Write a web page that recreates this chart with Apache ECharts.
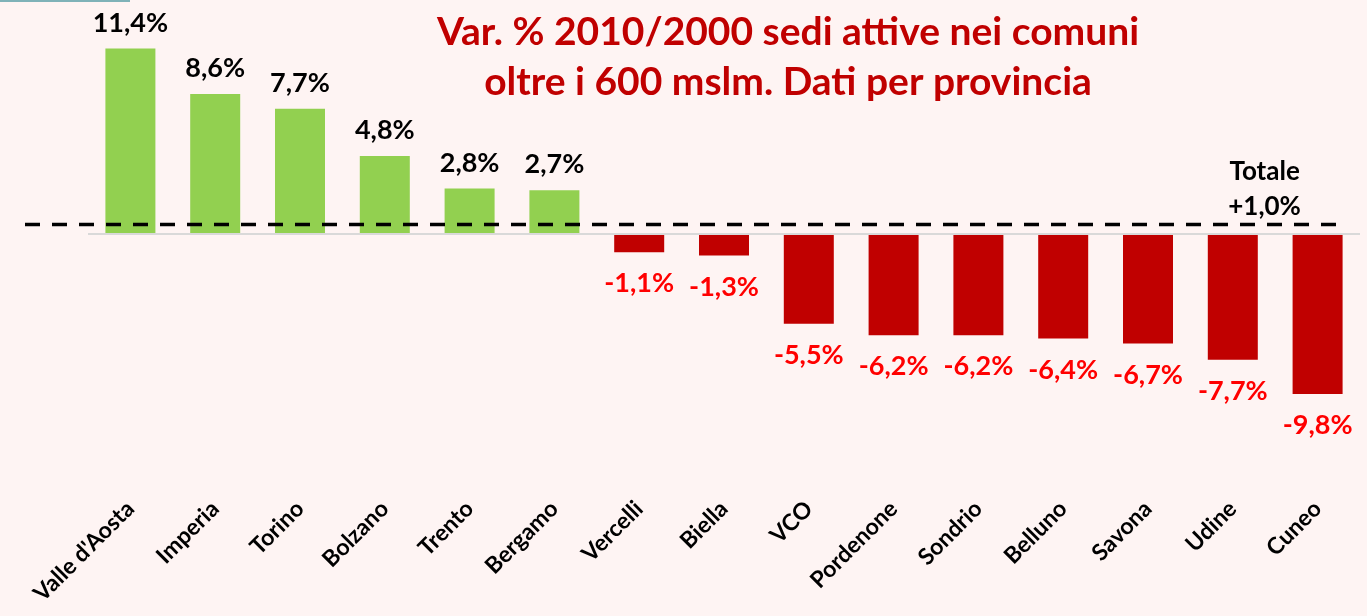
<!DOCTYPE html>
<html>
	<head>
		<meta charset="utf-8">
		<title></title>
		<script src="https://cdn.jsdelivr.net/npm/echarts@6/dist/echarts.min.js"></script>
		<style>
			html, body { margin: 0; padding: 0; background: #fef4f3; }
		</style>
	</head>
	<body>
		<div id="my" style="width: 1367px;height:616px;"></div>

		<script>
			var province = ["Valle d'Aosta", 'Imperia', 'Torino', 'Bolzano', 'Trento', 'Bergamo', 'Vercelli',
				'Biella', 'VCO', 'Pordenone', 'Sondrio', 'Belluno', 'Savona', 'Udine', 'Cuneo'];
			var variazione = [11.4, 8.6, 7.7, 4.8, 2.8, 2.7, -1.1, -1.3, -5.5, -6.2, -6.2, -6.4, -6.7, -7.7, -9.8];
			var totaleTesto = ['Totale', '+1,0%'];
			var totaleLinea = 0.6; // posizione della linea tratteggiata

			var font = 'Lato, "Open Sans", sans-serif';

			function fmt(v) {
				return v.toFixed(1).replace('.', ',') + '%';
			}

			var myChart = echarts.init(document.getElementById('my'));

			var option = {
				backgroundColor: '#fef4f3',
				title: {
					text: 'Var. % 2010/2000 sedi attive nei comuni\noltre i 600 mslm. Dati per provincia',
					left: 783,
					top: 2,
					textAlign: 'center',
					textStyle: {
						color: '#c00000',
						fontFamily: font,
						fontWeight: 'bold',
						fontSize: 39,
						lineHeight: 50
					}
				},
				grid: {
					left: 88,
					right: 7,
					top: 6,
					bottom: 121
				},
				xAxis: {
					type: 'category',
					data: province,
					axisLine: { show: false },
					axisTick: { show: false },
					axisLabel: {
						interval: 0,
						rotate: 45,
						margin: 10,
						color: '#000',
						fontFamily: font,
						fontWeight: 'bold',
						fontSize: 23
					}
				},
				yAxis: {
					type: 'value',
					min: -16,
					max: 14,
					show: false,
					splitLine: { show: false }
				},
				series: [
					{
						type: 'bar',
						barWidth: 50,
						// colore e posizione delle etichette secondo il segno
						data: variazione.map(function (v) {
							return {
								value: v,
								itemStyle: { color: v >= 0 ? '#92d050' : '#c00000' },
								label: {
									color: v >= 0 ? '#000' : '#ff0000',
									position: v >= 0 ? 'top' : 'bottom',
									distance: v >= 0 ? 12 : 18
								}
							};
						}),
						label: {
							show: true,
							fontFamily: font,
							fontWeight: 'bold',
							fontSize: 27,
							formatter: function (p) { return fmt(p.value); }
						},
						markLine: {
							silent: true,
							symbol: 'none',
							label: { show: false },
							lineStyle: { color: '#d9d9d9', type: 'solid', width: 2 },
							data: [{ yAxis: 0 }]
						},
						z: 3
					}
				]
			};

			myChart.setOption(option);

			// linea tratteggiata del totale, oltre i bordi della griglia
			var yTot = myChart.convertToPixel({ yAxisIndex: 0 }, totaleLinea);
			var xLast = myChart.convertToPixel({ xAxisIndex: 0 }, province.length - 1);
			myChart.setOption({
				graphic: [
					{
						type: 'rect',
						shape: { x: 0, y: 0, width: 130, height: 2 },
						style: { fill: '#7fb2b8' }
					},
					{
						type: 'line',
						z: 10,
						shape: { x1: 25, y1: yTot, x2: 1345, y2: yTot },
						style: { stroke: '#000', lineWidth: 3.5, lineDash: [15, 12] }
					},
					{
						type: 'text',
						z: 10,
						x: xLast - 53,
						y: yTot - 70,
						style: {
							text: totaleTesto.join('\n'),
							fill: '#000',
							font: 'bold 26px ' + font,
							lineHeight: 35,
							align: 'center'
						}
					}
				]
			});
		</script>
	</body>
</html>
